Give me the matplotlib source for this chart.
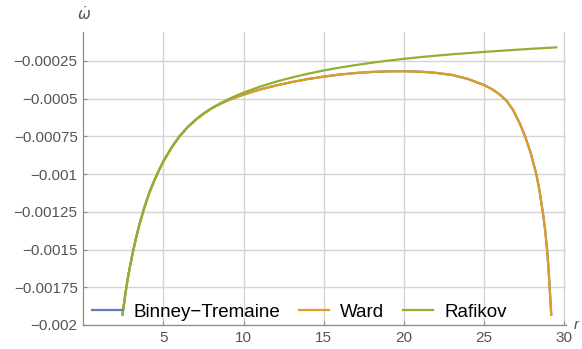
import matplotlib
matplotlib.use('Agg')
import matplotlib.pyplot as plt

plt.rcParams['font.family'] = ['Liberation Sans', 'DejaVu Sans']

# Rafikov precession rate vs radius
r_rafikov = [2.45, 2.53, 2.62, 2.75, 2.9, 3.1, 3.3, 3.5, 3.8, 4.1, 4.4, 4.7,
             5.0, 5.5, 6.0, 6.5, 7.0, 7.5, 8.0, 8.5, 9.0, 9.5, 10.0, 11.0,
             12.0, 13.0, 14.0, 15.0, 16.0, 17.0, 18.0, 19.0, 20.0, 21.0,
             22.0, 23.0, 24.0, 25.0, 26.0, 27.0, 28.0, 29.0, 29.5]
w_rafikov = [-0.00193, -0.00187, -0.0018, -0.00171, -0.00162, -0.001515,
             -0.00142, -0.001335, -0.001225, -0.00113, -0.00105, -0.00098,
             -0.000915, -0.000825, -0.00075, -0.00069, -0.00064, -0.000598,
             -0.000563, -0.000533, -0.000506, -0.000482, -0.00046, -0.000421,
             -0.000388, -0.00036, -0.000335, -0.000313, -0.000294, -0.000277,
             -0.000262, -0.000248, -0.000236, -0.000225, -0.000215, -0.000206,
             -0.000198, -0.00019, -0.000183, -0.000176, -0.000169, -0.000163,
             -0.00016]

# Ward and Binney-Tremaine coincide over the whole range
r_ward = [2.45, 2.53, 2.62, 2.75, 2.9, 3.1, 3.3, 3.5, 3.8, 4.1, 4.4, 4.7,
          5.0, 5.5, 6.0, 6.5, 7.0, 7.5, 8.0, 8.5, 9.0, 9.5, 10.0, 11.0,
          12.0, 13.0, 14.0, 15.0, 16.0, 17.0, 18.0, 19.0, 20.0, 21.0, 22.0,
          23.0, 24.0, 25.0, 25.5, 26.0, 26.4, 26.8, 27.2, 27.55, 27.9, 28.25,
          28.45, 28.65, 28.8, 28.92, 29.0, 29.08, 29.18]
w_ward = [-0.00193, -0.00187, -0.0018, -0.00171, -0.00162, -0.001515,
          -0.00142, -0.001335, -0.001225, -0.00113, -0.00105, -0.00098,
          -0.000915, -0.000825, -0.00075, -0.00069, -0.000641, -0.0006,
          -0.000565, -0.000537, -0.000512, -0.000492, -0.000473, -0.00044,
          -0.000413, -0.00039, -0.00037, -0.000354, -0.00034, -0.00033,
          -0.000323, -0.000319, -0.000318, -0.000321, -0.000329, -0.000343,
          -0.00037, -0.00041, -0.000438, -0.000475, -0.000515, -0.000575,
          -0.00066, -0.00075, -0.00086, -0.001, -0.00111, -0.00125, -0.00137,
          -0.0015, -0.00161, -0.00175, -0.00193]
r_bt = list(r_ward)
w_bt = list(w_ward)

x_ticks = [5, 10, 15, 20, 25, 30]
y_ticks = [-0.00025, -0.0005, -0.00075, -0.001, -0.00125, -0.0015,
           -0.00175, -0.002]
y_tick_labels = ['\u22120.00025', '\u22120.0005', '\u22120.00075', '\u22120.001',
                 '\u22120.00125', '\u22120.0015', '\u22120.00175', '\u22120.002']

fig = plt.figure(figsize=(5.82, 3.49), dpi=100)
ax = fig.add_axes([0.143, 0.0688, 0.8295, 0.8395])

lw = 1.6
ax.plot(r_bt, w_bt, color='#5E81B5', lw=lw, label='Binney\u2212Tremaine')
ax.plot(r_ward, w_ward, color='#E19C24', lw=lw, label='Ward')
ax.plot(r_rafikov, w_rafikov, color='#8FB032', lw=lw, label='Rafikov')

ax.set_xlim(0, 30.1)
ax.set_ylim(-0.002, -0.0000582)
ax.set_xticks(x_ticks)
ax.set_yticks(y_ticks)
ax.set_yticklabels(y_tick_labels)
ax.grid(True, color='#d4d4d4', lw=1.0)
ax.set_axisbelow(True)

for side in ('top', 'right'):
    ax.spines[side].set_visible(False)
for side in ('left', 'bottom'):
    ax.spines[side].set_color('#8c8c8c')
    ax.spines[side].set_linewidth(0.9)
ax.tick_params(axis='both', direction='in', length=3, width=0.8,
               color='#8c8c8c', labelcolor='#555555', labelsize=11, pad=4)

ax.legend(loc='center left', bbox_to_anchor=(92 / 582, 1 - 312 / 349),
          bbox_transform=fig.transFigure, ncol=3, frameon=False,
          fontsize=13.5, handlelength=1.6, handletextpad=0.6,
          columnspacing=1.0, borderpad=0, borderaxespad=0)

fig.text(84 / 582, 1 - 14 / 349, r'$\dot{\omega}$', color='#555555',
         fontsize=11, ha='center', va='center')
fig.text(574 / 582, 1 - 325 / 349, 'r', color='#555555', fontsize=11,
         style='italic', ha='left', va='center')

fig.savefig('out.png', dpi=100)
